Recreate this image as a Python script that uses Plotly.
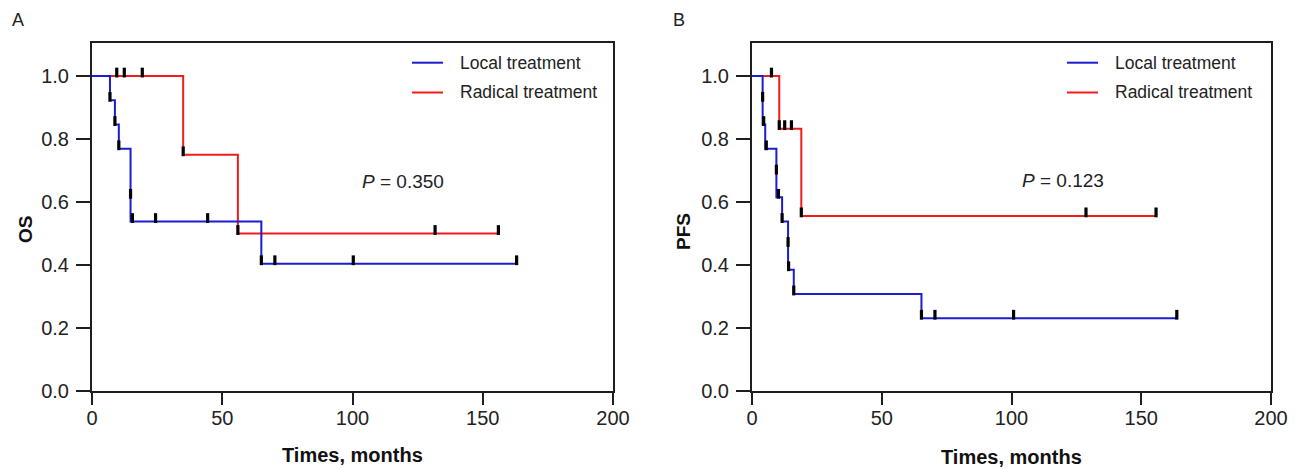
import plotly.graph_objects as go

# ---------------- data ----------------
# Panel A: OS
os_local_t = [0, 6.9, 8.8, 10.3, 14.8, 65.0, 163.0]
os_local_s = [1.0, 0.923, 0.846, 0.769, 0.538, 0.404, 0.404]
os_local_mark_t = [6.9, 8.8, 10.3, 14.8, 15.5, 24.4, 44.4, 65.0, 70.2, 100.3, 163.0]
os_local_mark_s = [0.923, 0.846, 0.769, 0.615, 0.538, 0.538, 0.538, 0.404, 0.404, 0.404, 0.404]

os_radical_t = [0, 35.0, 56.0, 156.0]
os_radical_s = [1.0, 0.75, 0.50, 0.50]
os_radical_mark_t = [9.5, 12.4, 19.3, 35.0, 56.0, 131.7, 156.0]
os_radical_mark_s = [1.0, 1.0, 1.0, 0.75, 0.50, 0.50, 0.50]

# Panel B: PFS
pfs_local_t = [0, 4.1, 5.1, 9.4, 11.6, 13.9, 16.1, 65.3, 163.7]
pfs_local_s = [1.0, 0.846, 0.769, 0.615, 0.538, 0.385, 0.308, 0.231, 0.231]
pfs_local_mark_t = [4.1, 4.5, 5.5, 9.4, 10.2, 11.6, 13.9, 14.1, 16.1, 65.3, 70.5, 100.8, 163.7]
pfs_local_mark_s = [0.923, 0.846, 0.769, 0.692, 0.615, 0.538, 0.462, 0.385, 0.308, 0.231, 0.231, 0.231, 0.231]

pfs_radical_t = [0, 10.5, 19.0, 155.7]
pfs_radical_s = [1.0, 0.833, 0.556, 0.556]
pfs_radical_mark_t = [7.5, 10.5, 12.6, 15.2, 19.0, 128.7, 155.7]
pfs_radical_mark_s = [1.0, 0.833, 0.833, 0.833, 0.556, 0.556, 0.556]

series_names = ["Local treatment", "Radical treatment"]
x_ticks = [0, 50, 100, 150, 200]
y_ticks = [0.0, 0.2, 0.4, 0.6, 0.8, 1.0]
p_values = ["0.350", "0.123"]
panel_labels = ["A", "B"]
y_titles = ["OS", "PFS"]
x_title = "Times, months"

# ---------------- style ----------------
WIN_W, WIN_H = 1306, 469
OFF = 8                      # page body margin the figure is placed at
W, H = WIN_W - OFF, WIN_H - OFF
FONT = "Arial, Liberation Sans, sans-serif"
BLUE = "#1c1cd0"
RED = "#f01c1c"
AX = "#1e1e1e"
Y_MAX = 1.105
PLOT_TOP, PLOT_BOT = 43, 391
MARK_OFF = 3.5 * Y_MAX / (PLOT_BOT - PLOT_TOP)

def px(x):
    return (x - OFF) / W

def py(y):
    return 1 - (y - OFF) / H

fig = go.Figure()

panels = [
    dict(xa="x", ya="y",
         local=(os_local_t, os_local_s, os_local_mark_t, os_local_mark_s),
         radical=(os_radical_t, os_radical_s, os_radical_mark_t, os_radical_mark_s)),
    dict(xa="x2", ya="y2",
         local=(pfs_local_t, pfs_local_s, pfs_local_mark_t, pfs_local_mark_s),
         radical=(pfs_radical_t, pfs_radical_s, pfs_radical_mark_t, pfs_radical_mark_s)),
]

for p in panels:
    for key, color, name in [("radical", RED, series_names[1]), ("local", BLUE, series_names[0])]:
        t, s, mt, ms = p[key]
        fig.add_trace(go.Scatter(x=t, y=s, mode="lines", line=dict(color=color, width=2, shape="hv"),
                                 name=name, xaxis=p["xa"], yaxis=p["ya"], showlegend=False,
                                 hoverinfo="skip"))
    for key in ["radical", "local"]:
        t, s, mt, ms = p[key]
        fig.add_trace(go.Scatter(x=mt, y=[v + MARK_OFF for v in ms], mode="markers",
                                 marker=dict(symbol="line-ns", size=7,
                                             line=dict(color="black", width=3.2)),
                                 xaxis=p["xa"], yaxis=p["ya"], showlegend=False,
                                 hoverinfo="skip"))

axis_common = dict(showgrid=False, zeroline=False, showline=True, linecolor=AX, linewidth=2,
                   mirror=True, ticks="outside", tickwidth=2, tickcolor=AX,
                   automargin=False,
                   tickfont=dict(family=FONT, size=20, color="#222"))
x_axis = dict(range=[0, 200], tickvals=x_ticks, ticklen=12, ticklabelstandoff=-4, **axis_common)
y_axis = dict(range=[0, Y_MAX], tickvals=y_ticks, tickformat=".1f", ticklen=14,
              ticklabelstandoff=3, domain=[py(PLOT_BOT), py(PLOT_TOP)], **axis_common)

fig.update_layout(
    width=W, height=H, autosize=False,
    margin=dict(l=0, r=0, t=0, b=0, pad=0, autoexpand=False),
    paper_bgcolor="white", plot_bgcolor="white", showlegend=False,
    xaxis=dict(domain=[px(92), px(613)], anchor="y", **x_axis),
    yaxis=dict(anchor="x", **y_axis),
    xaxis2=dict(domain=[px(752), px(1271)], anchor="y2", **x_axis),
    yaxis2=dict(anchor="x2", **y_axis),
)

annotations = []
shapes = []
legend_pos = [(412, 443, 458), (1067, 1098, 1113)]
legend_rows = [62.7, 92.5]
p_pos = [(403, 181), (1063, 180)]
xt_pos = [(352, 455), (1011, 457)]
yt_pos = [(25, 230), (683, 232)]
lab_pos = [(10, 20), (671, 20)]

for i in range(2):
    x0, x1, xt = legend_pos[i]
    for name, color, yy in zip(series_names, [BLUE, RED], legend_rows):
        shapes.append(dict(type="line", xref="paper", yref="paper", x0=px(x0), x1=px(x1),
                           y0=py(yy), y1=py(yy), line=dict(color=color, width=2)))
        annotations.append(dict(xref="paper", yref="paper", x=px(xt), y=py(yy), text=name,
                                showarrow=False, xanchor="left", yanchor="middle",
                                font=dict(family=FONT, size=17.5, color="#222")))
    annotations.append(dict(xref="paper", yref="paper", x=px(p_pos[i][0]), y=py(p_pos[i][1]),
                            text="<i>P</i> = " + p_values[i], showarrow=False,
                            xanchor="center", yanchor="middle",
                            font=dict(family=FONT, size=19, color="#222")))
    annotations.append(dict(xref="paper", yref="paper", x=px(xt_pos[i][0]), y=py(xt_pos[i][1]),
                            text="<b>" + x_title + "</b>", showarrow=False,
                            xanchor="center", yanchor="middle",
                            font=dict(family=FONT, size=20, color="#111")))
    annotations.append(dict(xref="paper", yref="paper", x=px(yt_pos[i][0]), y=py(yt_pos[i][1]),
                            text="<b>" + y_titles[i] + "</b>", showarrow=False, textangle=-90,
                            xanchor="center", yanchor="middle",
                            font=dict(family=FONT, size=19, color="#111")))
    annotations.append(dict(xref="paper", yref="paper", x=px(lab_pos[i][0]), y=py(lab_pos[i][1]),
                            text=panel_labels[i], showarrow=False,
                            xanchor="left", yanchor="middle",
                            font=dict(family=FONT, size=18, color="#222")))

fig.update_layout(annotations=annotations, shapes=shapes)
fig.write_html("out.html")
